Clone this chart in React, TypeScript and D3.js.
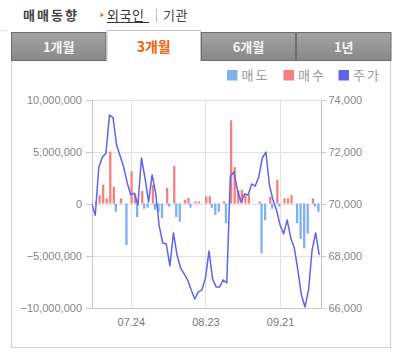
import React from 'react';
import * as d3 from 'd3';

// net foreign trading (negative = 매도, positive = 매수)
const tradeNet = [
  -1300000, 200000, 800000, 1800000, 500000, 5000000, 1600000, -800000, 500000, 0,
  -4000000, 3100000, 1000000, -1300000, 1200000, -500000, -400000, 1800000, -600000, -800000,
  -1400000, 1500000, -300000, 3600000, -1300000, -1750000, 350000, 550000, -400000, 200000,
  200000, 0, 700000, 700000, -400000, -1100000, -800000, 200000, -1900000, 8000000,
  3500000, 1300000, 1300000, 800000, 800000, 0, 0, 200000, -4800000, -1600000,
  650000, -500000, 2300000, -300000, 500000, 500000, 800000, 0, -1900000, -3400000,
  -4300000, -2900000, 500000, -300000, -800000,
];

const prices = [
  70000, 69550, 71400, 71780, 71930, 73400, 73300, 72250, 71830, 71400,
  70790, 70330, 70400, 69940, 71750, 70980, 70060, 71100, 70400, 69130,
  68480, 68440, 67600, 68870, 68020, 67520, 67290, 67060, 66670, 66330,
  66600, 66670, 67130, 68170, 67100, 66790, 66790, 67060, 66940, 71050,
  71210, 70520, 70060, 70370, 70330, 70750, 70670, 71020, 71750, 71980,
  70710, 70130, 69750, 69170, 68830, 69370, 68670, 68290, 67440, 66480,
  66020, 66670, 68210, 68870, 68020,
];

const xTickIndex = [11, 32, 53];
const xTickLabels = ['07.24', '08.23', '09.21'];
const leftTicks = [10000000, 5000000, 0, -5000000, -10000000];
const rightTicks = [74000, 72000, 70000, 68000, 66000];
const tabs = ['1개월', '3개월', '6개월', '1년'];
const legendItems = ['매도', '매수', '주가'];

const FONT = "'Liberation Sans', Arial, 'Noto Sans CJK KR', sans-serif";
const KFONT = "'Noto Sans CJK KR', 'Liberation Sans', sans-serif";

const SELL = '#7eb1f2';
const BUY = '#f77f7f';
const LINE = '#6262ee';

export default function App() {
  const W = 401, H = 356;
  const plot = { l: 92, r: 322, t: 99.5, b: 307.5 };
  const n = prices.length;
  const x = d3.scaleLinear().domain([0, n - 1]).range([91.7, 319.2]);
  const yL = d3.scaleLinear().domain([-10000000, 10000000]).range([plot.b, plot.t]);
  const yR = d3.scaleLinear().domain([66000, 74000]).range([plot.b, plot.t]);
  const fmt = d3.format(',');
  const line = d3.line<number>().x((_, i) => x(i)).y(d => yR(d));
  const barW = 2.3;

  const tabX = [11, 106.5, 201, 296, 391.5];
  const legendColors = [SELL, BUY, LINE];
  const legendX = [227, 283.5, 338.5];

  return (
    <svg width={W} height={H} style={{ position: 'absolute', left: 0, top: 0, background: '#fff' }}>
      <defs>
        <linearGradient id="tabg" x1="0" y1="0" x2="0" y2="1">
          <stop offset="0" stopColor="#a3a3a3" />
          <stop offset="1" stopColor="#888888" />
        </linearGradient>
        <clipPath id="plotclip">
          <rect x={plot.l} y={plot.t - 1} width={plot.r - plot.l} height={plot.b - plot.t + 2} />
        </clipPath>
      </defs>

      {/* header */}
      <line x1={0} x2={7} y1={30.5} y2={30.5} stroke="#ddd" />
      <text x={23} y={20} fontFamily={KFONT} fontSize={13} fontWeight="bold" fill="#444" letterSpacing={2}>매매동향</text>
      <path d="M100.5,12.5 L104,15 L100.5,17.5 Z" fill="#f07020" />
      <text x={107} y={20} fontFamily={KFONT} fontSize={13} fill="#333" letterSpacing={0.5}>외국인</text>
      <line x1={107} x2={149} y1={22.5} y2={22.5} stroke="#333" strokeWidth={1} />
      <line x1={156.5} x2={156.5} y1={9} y2={22} stroke="#bbb" />
      <text x={163} y={20} fontFamily={KFONT} fontSize={13} fill="#444" letterSpacing={0.5}>기관</text>

      {/* chart box */}
      <rect x={11.5} y={60.5} width={379} height={287} fill="#fff" stroke="#cfcfcf" />

      {/* tabs */}
      {tabs.map((t, i) => {
        const active = i === 1;
        const x0 = tabX[i], x1 = tabX[i + 1];
        const cx = (x0 + x1) / 2;
        return (
          <g key={t}>
            {active ? (
              <path d={`M${x0 + 0.5},61 L${x0 + 0.5},30.5 L${x1 - 0.5},30.5 L${x1 - 0.5},61`} fill="#fff" stroke="#c4c4c4" />
            ) : (
              <rect x={x0 + 0.5} y={32.5} width={x1 - x0 - 1} height={28} fill="url(#tabg)" stroke="#6e6e6e" />
            )}
            <text x={cx} y={active ? 52 : 52} textAnchor="middle" fontFamily={KFONT} fontSize={active ? 14 : 13}
              fontWeight="bold" fill={active ? '#f0600e' : '#f4f4f4'}>{t}</text>
          </g>
        );
      })}
      {/* white cover under active tab */}
      <rect x={tabX[1] + 1} y={59} width={tabX[2] - tabX[1] - 2} height={3} fill="#fff" />

      {/* legend */}
      {legendItems.map((l, i) => (
        <g key={l}>
          <rect x={legendX[i]} y={70} width={10.5} height={10.5} fill={legendColors[i]} />
          <text x={legendX[i] + 14.5} y={80} fontFamily={KFONT} fontSize={13} fill="#999" letterSpacing={2}>{l}</text>
        </g>
      ))}

      {/* grid */}
      {leftTicks.map(v => (
        <line key={'g' + v} x1={plot.l} x2={plot.r} y1={Math.round(yL(v)) + 0.5} y2={Math.round(yL(v)) + 0.5} stroke="#e2e2e2" />
      ))}
      {xTickIndex.map(i => (
        <line key={'v' + i} x1={Math.round(x(i)) + 0.5} x2={Math.round(x(i)) + 0.5} y1={plot.t} y2={plot.b} stroke="#e2e2e2" />
      ))}

      {/* axes */}
      <line x1={plot.l + 0.5} x2={plot.l + 0.5} y1={plot.t} y2={plot.b + 0.5} stroke="#c8c8c8" />
      <line x1={plot.r - 0.5} x2={plot.r - 0.5} y1={plot.t} y2={plot.b + 0.5} stroke="#c8c8c8" />
      <line x1={plot.l} x2={plot.r} y1={Math.round(plot.b) + 0.5} y2={Math.round(plot.b) + 0.5} stroke="#c8c8c8" />
      {leftTicks.map(v => (
        <g key={'l' + v}>
          <line x1={plot.l - 6} x2={plot.l} y1={Math.round(yL(v)) + 0.5} y2={Math.round(yL(v)) + 0.5} stroke="#c8c8c8" />
          <text x={82} y={yL(v) + 4} textAnchor="end" fontFamily={FONT} fontSize={11} fill="#888">{fmt(v)}</text>
        </g>
      ))}
      {rightTicks.map(v => (
        <g key={'r' + v}>
          <line x1={plot.r} x2={plot.r + 4} y1={Math.round(yR(v)) + 0.5} y2={Math.round(yR(v)) + 0.5} stroke="#c8c8c8" />
          <text x={328.5} y={yR(v) + 4} fontFamily={FONT} fontSize={11} fill="#888">{fmt(v)}</text>
        </g>
      ))}
      {xTickIndex.map((i, k) => (
        <text key={'x' + i} x={x(i) + 0.5} y={326} textAnchor="middle" fontFamily={FONT} fontSize={11} fill="#777">{xTickLabels[k]}</text>
      ))}

      {/* bars + line */}
      <g clipPath="url(#plotclip)">
        {tradeNet.map((v, i) => {
          if (v === 0) return null;
          const cx = x(i) + (v < 0 ? -0.8 : 0.8);
          const y0 = yL(0), y1 = yL(v);
          return (
            <rect key={'b' + i} x={cx - barW / 2} y={Math.min(y0, y1)} width={barW} height={Math.abs(y1 - y0)}
              fill={v < 0 ? SELL : BUY} />
          );
        })}
        <path d={line(prices) || ''} fill="none" stroke={LINE} strokeWidth={1.5} strokeLinejoin="round" />
      </g>
    </svg>
  );
}
